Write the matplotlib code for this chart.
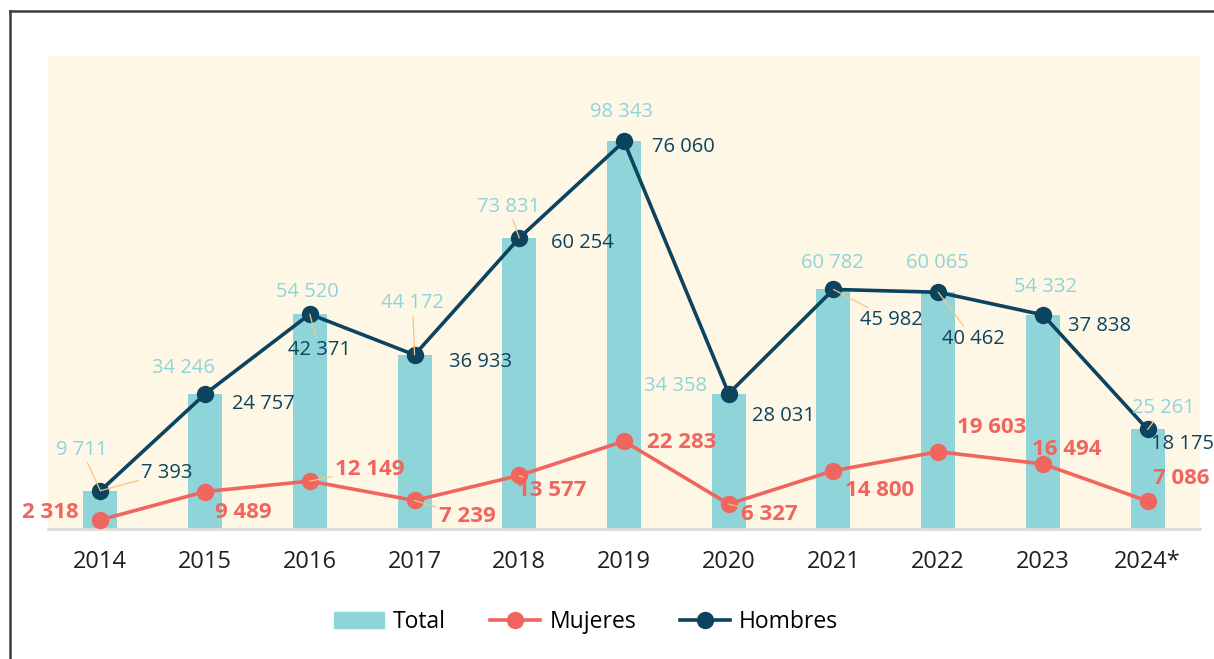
import matplotlib
matplotlib.use("Agg")
import matplotlib.pyplot as plt
from matplotlib.lines import Line2D
from matplotlib.patches import Patch

years = ["2014", "2015", "2016", "2017", "2018", "2019", "2020", "2021", "2022", "2023", "2024*"]
total = [9711, 34246, 54520, 44172, 73831, 98343, 34358, 60782, 60065, 54332, 25261]
mujeres = [2318, 9489, 12149, 7239, 13577, 22283, 6327, 14800, 19603, 16494, 7086]
hombres = [7393, 24757, 42371, 36933, 60254, 76060, 28031, 45982, 40462, 37838, 18175]

c_total = "#8fd4d8"
c_muj = "#f0655e"
c_hom = "#0c4460"
c_lead = "#f5c77e"

plt.rcParams['font.family'] = ['Open Sans', 'DejaVu Sans']


def fmt(v):
    return f"{v:,}".replace(",", " ")


fig = plt.figure(figsize=(12.14, 6.59), dpi=100)
ax = fig.add_axes([48 / 1214, 130 / 659, 1152 / 1214, 473 / 659])
ax.set_facecolor("#fef7e6")

x = list(range(len(years)))
ax.bar(x, total, width=0.325, color=c_total, zorder=2)
ax.plot(x, mujeres, color=c_muj, lw=2.6, marker="o", ms=11.5, zorder=3)
# the original draws the Hombres line through the bar tops
ax.plot(x, total, color=c_hom, lw=2.6, marker="o", ms=11.5, zorder=4)

ax.set_xlim(-0.5, 10.5)
ax.set_ylim(0, 120000)
ax.set_xticks(x)
ax.set_xticklabels(years, fontsize=17, color="#231f20")
ax.tick_params(axis="x", length=0, pad=15)
ax.set_yticks([])
for s in ["top", "right", "left"]:
    ax.spines[s].set_visible(False)
ax.spines["bottom"].set_color("#dcdcdc")
ax.spines["bottom"].set_linewidth(2)

# label offsets in pixels (dx, dy up); total centred, others left-anchored
off_total = [(-19, 41), (-22, 26), (-2, 22), (-2, 52), (-11, 31), (-2, 29),
             (-53, 8), (-1, 26), (-1, 29), (3, 28), (16, 21)]
off_hom = [(41, 18), (27, -10), (-22, -36), (34, -7), (32, -5), (28, -6),
           (23, -22), (27, -31), (4, -47), (25, -11), (3, -15)]
off_muj = [(-22, 7), (10, -21), (25, 12), (24, -16), (-2, -15), (23, -1),
           (12, -10), (12, -20), (19, 24), (-11, 14), (5, 23)]
lead_total = {0, 3, 4, 10}
lead_hom = {0, 2, 7, 8}
lead_muj = {2, 3, 4, 6}

lead = dict(arrowstyle="-", color=c_lead, lw=0.9, shrinkA=0, shrinkB=0)

for i in x:
    ax.annotate(fmt(total[i]), (i, total[i]), xytext=off_total[i], textcoords="offset pixels",
                ha="center", va="center", fontsize=14.5, color=c_total, zorder=6,
                arrowprops=lead if i in lead_total else None)
    ax.annotate(fmt(hombres[i]), (i, total[i]), xytext=off_hom[i], textcoords="offset pixels",
                ha="left", va="center", fontsize=14.5, color=c_hom, zorder=6,
                arrowprops=lead if i in lead_hom else None)
    ax.annotate(fmt(mujeres[i]), (i, mujeres[i]), xytext=off_muj[i], textcoords="offset pixels",
                ha="right" if i == 0 else "left", va="center", fontsize=16,
                fontweight="bold", color=c_muj, zorder=6,
                arrowprops=lead if i in lead_muj else None)

handles = [Patch(color=c_total),
           Line2D([], [], color=c_muj, lw=2.6, marker="o", ms=11.5),
           Line2D([], [], color=c_hom, lw=2.6, marker="o", ms=11.5)]
fig.legend(handles, ["Total", "Mujeres", "Hombres"], loc="center",
           bbox_to_anchor=(586 / 1214, 1 - 622 / 659), ncol=3, frameon=False,
           fontsize=16.5, handlelength=2.2, handletextpad=0.4, columnspacing=1.9)

# outer frame (left and top edges visible)
fig.add_artist(Line2D([10 / 1214, 10 / 1214], [0, 1 - 11 / 659], color="#3a3a3a", lw=1.8,
                      transform=fig.transFigure))
fig.add_artist(Line2D([10 / 1214, 1], [1 - 11 / 659, 1 - 11 / 659], color="#3a3a3a", lw=1.8,
                      transform=fig.transFigure))

fig.savefig("out.png", dpi=100)
